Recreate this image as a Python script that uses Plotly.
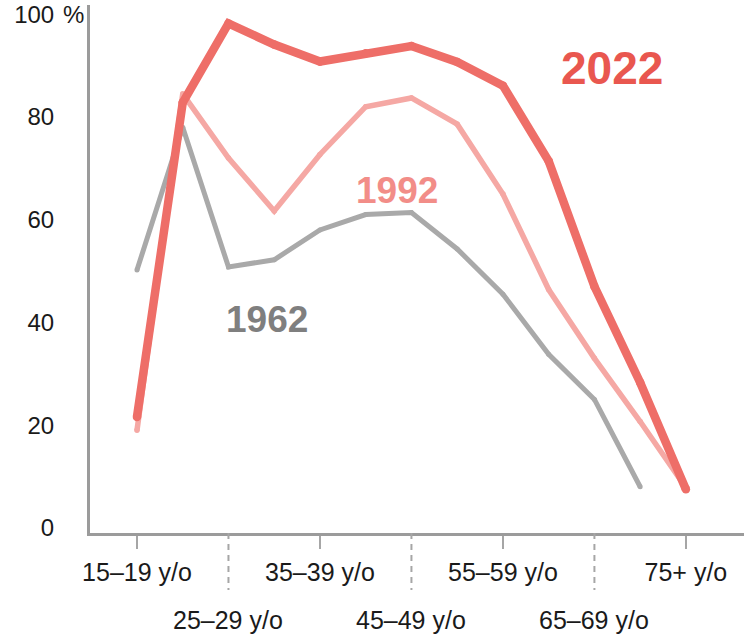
import plotly.graph_objects as go

categories = ["15–19 y/o", "20–24 y/o", "25–29 y/o", "30–34 y/o", "35–39 y/o",
              "40–44 y/o", "45–49 y/o", "50–54 y/o", "55–59 y/o", "60–64 y/o",
              "65–69 y/o", "70–74 y/o", "75+ y/o"]

v1962 = [50.2, 78.0, 50.8, 52.2, 58.0, 61.0, 61.4, 54.3, 45.5, 33.8, 25.0, 8.0, None]
v1992 = [19.0, 84.5, 72.0, 61.7, 72.7, 82.0, 83.7, 78.6, 65.0, 46.4, 33.0, 20.7, 7.8]
v2022 = [21.6, 82.8, 98.2, 94.1, 90.8, 92.4, 93.8, 90.7, 86.1, 71.4, 47.0, 28.3, 7.5]

row1_labels = [categories[0], categories[4], categories[8], categories[12]]
row2_labels = [categories[2], categories[6], categories[10]]
y_ticks = [0, 20, 40, 60, 80, 100]

FONT = "Liberation Sans, Arial, Helvetica, sans-serif"
AXIS = "#9b9b9b"
TXT = "#1a1a1a"

fig = go.Figure()
series = [
    ("1962", v1962, "#a9a9a9", 5),
    ("1992", v1992, "#f5a8a4", 5.5),
    ("2022", v2022, "#ee6e68", 8.5),
]
for name, vals, col, w in series:
    fig.add_trace(go.Scatter(
        x=categories, y=vals, name=name, mode="lines+markers",
        line=dict(color=col, width=w),
        marker=dict(color=col, size=w, line=dict(width=0)),
        connectgaps=False, hoverinfo="skip", showlegend=False,
    ))

labels = [
    ("2022", 10.38, 89.5, "#e9574f", 46),
    ("1992", 5.69, 65.7, "#f28d88", 37),
    ("1962", 2.85, 40.5, "#7f7f7f", 37),
]
annotations = []
for txt, xi, yv, col, sz in labels:
    annotations.append(dict(x=xi, y=yv, xref="x", yref="y", text="<b>%s</b>" % txt,
                            showarrow=False, font=dict(family=FONT, size=sz, color=col),
                            xanchor="center", yanchor="middle"))

for lab in row2_labels:
    annotations.append(dict(x=categories.index(lab), y=-0.165, xref="x", yref="paper",
                            text=lab, showarrow=False, yanchor="middle", xanchor="center",
                            font=dict(family=FONT, size=25, color=TXT)))

annotations.append(dict(x=-0.045, y=100, xref="paper", yref="y", text="%",
                        showarrow=False, xanchor="left", yanchor="middle",
                        font=dict(family=FONT, size=24, color=TXT)))

shapes = []
for lab in row2_labels:
    i = categories.index(lab)
    shapes.append(dict(type="line", xref="x", yref="paper", x0=i, x1=i, y0=0, y1=-0.108,
                       line=dict(color="#a6a6a6", width=2, dash="6px,5px")))

fig.update_layout(
    width=744, height=636,
    margin=dict(l=90, r=0, t=5, b=103),
    paper_bgcolor="white", plot_bgcolor="white",
    font=dict(family=FONT, size=24, color=TXT),
    annotations=annotations, shapes=shapes,
    xaxis=dict(
        type="category", categoryorder="array", categoryarray=categories,
        range=[-1.027, 13.27],
        tickmode="array", tickvals=row1_labels, ticktext=row1_labels,
        ticks="outside", ticklen=13, tickwidth=2, tickcolor="#a6a6a6",
        showline=True, linecolor=AXIS, linewidth=3,
        showgrid=False, zeroline=False, ticklabelstandoff=2,
        tickfont=dict(family=FONT, size=25, color=TXT),
    ),
    yaxis=dict(
        range=[-1, 101.8],
        tickmode="array", tickvals=y_ticks, ticktext=[str(v) for v in y_ticks],
        ticks="", showline=True, linecolor=AXIS, linewidth=3,
        showgrid=False, zeroline=False, ticklabelstandoff=28,
        tickfont=dict(family=FONT, size=24, color=TXT),
    ),
)

fig.write_html("out.html", config={"displayModeBar": False},
               post_script="document.body.style.margin='0';")
